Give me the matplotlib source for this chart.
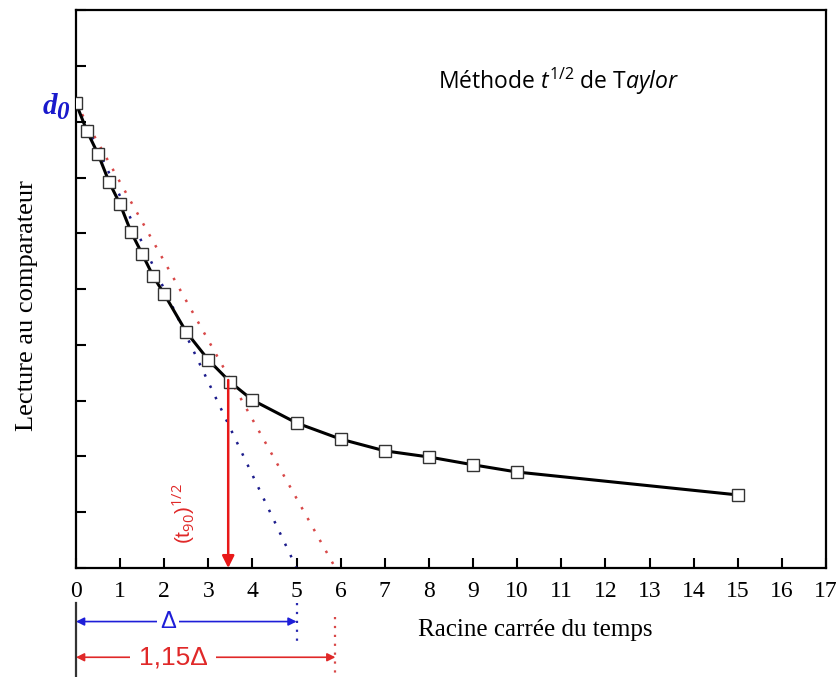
import matplotlib
matplotlib.use('Agg')
import matplotlib.pyplot as plt
import numpy as np

# racine du temps / lecture (unites arbitraires)
sqrt_t = [0, 0.25, 0.5, 0.75, 1, 1.25, 1.5, 1.75, 2, 2.5, 3, 3.5, 4, 5, 6, 7, 8, 9, 10, 15]
lecture = [8.33, 7.83, 7.42, 6.92, 6.52, 6.02, 5.63, 5.23, 4.91, 4.23, 3.73, 3.33,
           3.01, 2.60, 2.31, 2.10, 1.99, 1.85, 1.72, 1.31]

d0 = 8.33
delta = 5.0       # intersection de la tangente avec l'axe
delta_115 = 5.88  # droite a 1,15 x pente
t90_sqrt = 3.45
x_ticks = list(range(0, 18))

plt.rcParams['mathtext.fontset'] = 'custom'
plt.rcParams['mathtext.rm'] = 'Open Sans'
plt.rcParams['mathtext.it'] = 'Open Sans:italic'

fig = plt.figure(figsize=(8.37, 6.77), dpi=100)
ax = fig.add_axes([0.0908, 0.161, 0.8961, 0.824])

# tangentes
ax.plot([0, delta], [d0, 0], color='#1c1c8c', ls=(0, (1, 4)), lw=1.8, zorder=2)
ax.plot([0, delta_115], [d0, 0], color='#d84848', ls=(0, (1, 4)), lw=1.8, zorder=2)

# courbe
ax.plot(sqrt_t, lecture, color='black', lw=2.2, marker='s', ms=9,
        mfc='white', mec='#333333', mew=1.0, zorder=3)

# fleche t90
y90 = np.interp(t90_sqrt, sqrt_t, lecture)
ax.annotate('', xy=(t90_sqrt, 0), xytext=(t90_sqrt, y90),
            arrowprops=dict(arrowstyle='-|>', color='#e81818', lw=1.8,
                            mutation_scale=18, shrinkA=0, shrinkB=0), zorder=4)
ax.text(2.42, 0.97, r'(t$_{90}$)$^{1/2}$', rotation=90, color='#e02828',
        fontsize=15, family='Liberation Sans', ha='center', va='center')

ax.set_xlim(0, 17)
ax.set_ylim(0, 10)
ax.set_xticks(x_ticks)
ax.set_yticks(np.arange(0, 11, 1))
ax.set_yticklabels([])
ax.tick_params(axis='both', direction='in', length=7, width=1.5, labelsize=17)
ax.tick_params(axis='x', pad=9)
for lab in ax.get_xticklabels():
    lab.set_family('Liberation Serif')
for s in ax.spines.values():
    s.set_linewidth(1.6)

ax.set_ylabel('Lecture au comparateur', family='Liberation Serif', fontsize=19)
ax.yaxis.set_label_coords(-0.05, 0.47)
ax.text(0.612, -0.112, 'Racine carrée du temps', transform=ax.transAxes,
        family='Liberation Serif', fontsize=18, ha='center', va='center')

# d0
ax.text(-0.6, d0 - 0.05, 'd', color='#1a1acc', fontsize=21, family='Liberation Serif',
        style='italic', weight='bold', ha='center', va='center', clip_on=False)
ax.text(-0.32, d0 - 0.17, '0', color='#1a1acc', fontsize=18, family='Liberation Serif',
        style='italic', weight='bold', ha='center', va='center', clip_on=False)

ax.text(0.643, 0.873, r'Méthode $\mathit{t^{1/2}}$ de T$\mathit{aylor}$',
        transform=ax.transAxes, fontsize=16.5, family='Open Sans',
        ha='center', va='center')

# annotations sous l'axe
tr = ax.get_xaxis_transform()
ax.plot([0, 0], [-0.062, -0.2], color='#333333', lw=1.6, transform=tr, clip_on=False)
ax.plot([delta, delta], [-0.062, -0.13], color='#2a2ab0', ls=(0, (1, 3)), lw=1.6,
        transform=tr, clip_on=False)
ax.plot([delta_115, delta_115], [-0.088, -0.2], color='#d84848', ls=(0, (1, 3)), lw=1.6,
        transform=tr, clip_on=False)
ax.annotate('', xy=(0, -0.096), xytext=(delta, -0.096), xycoords=tr, textcoords=tr,
            arrowprops=dict(arrowstyle='<|-|>', color='#1e1ed8', lw=1.2,
                            mutation_scale=12, shrinkA=0, shrinkB=0))
ax.annotate('', xy=(0, -0.16), xytext=(delta_115, -0.16), xycoords=tr, textcoords=tr,
            arrowprops=dict(arrowstyle='<|-|>', color='#e02828', lw=1.2,
                            mutation_scale=12, shrinkA=0, shrinkB=0))
ax.text(2.08, -0.096, 'Δ', transform=tr, color='#1e1ed8', fontsize=17,
        family='Liberation Sans', ha='center', va='center',
        bbox=dict(facecolor='white', edgecolor='none', pad=2))
ax.text(2.2, -0.16, '1,15Δ', transform=tr, color='#e02828', fontsize=19,
        family='Liberation Sans', ha='center', va='center',
        bbox=dict(facecolor='white', edgecolor='none', pad=6))

fig.savefig('out.png', dpi=100)
